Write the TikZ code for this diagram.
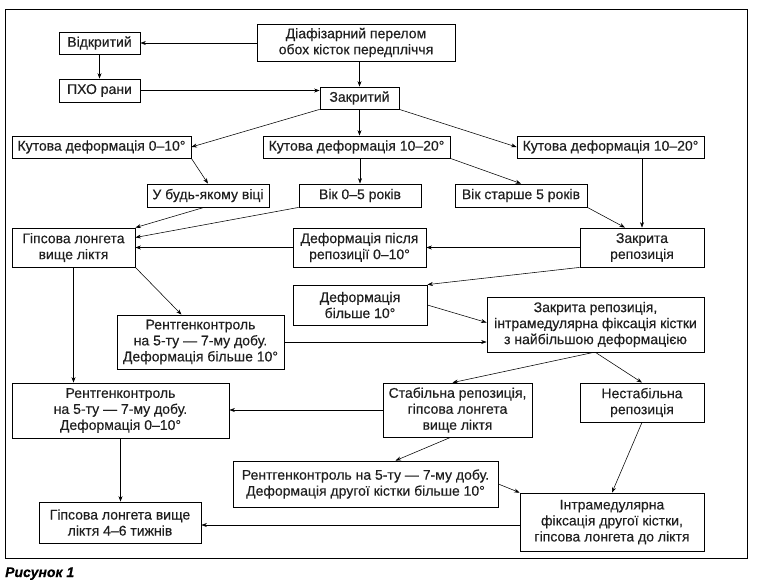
\documentclass[tikz,border=0pt]{standalone}
\usepackage{fontspec}
\setmainfont{Liberation Sans}[FakeBold=0.35]
\usetikzlibrary{arrows.meta,calc}
\newcommand{\fsz}{\fontsize{14}{16}\selectfont}
\tikzset{
  box/.style={draw, line width=0.8pt, align=center, inner sep=0pt, font=\fsz, text=black!88},
  arr/.style={-{Stealth[length=5.5pt,width=4pt]}, line width=0.55pt},
}
\begin{document}
\begin{tikzpicture}[x=1pt,y=-1pt]
\useasboundingbox (0,0) rectangle (760,587);
\draw[line width=0.9pt] (5,9) rectangle (747,558);
\node[anchor=base west, inner sep=0pt, font=\bfseries\itshape\fsz] (cap) at (5,577) {Рисунок 1};

\node[box, minimum width=198pt, minimum height=37pt] (diaf) at (356,42.5) {Діафізарний перелом\\обох кісток передпліччя};
\node[box, minimum width=81pt, minimum height=22pt] (vidk) at (99.5,43) {Відкритий};
\node[box, minimum width=81pt, minimum height=23pt] (pho) at (99.5,90.5) {ПХО рани};
\node[box, minimum width=79pt, minimum height=22pt] (zakr) at (359.5,98) {Закритий};
\node[box, minimum width=179pt, minimum height=22pt] (k010) at (101.5,147) {Кутова деформація 0–10°};
\node[box, minimum width=187pt, minimum height=22pt] (k1020a) at (356.5,147) {Кутова деформація 10–20°};
\node[box, minimum width=187pt, minimum height=22pt] (k1020b) at (610.5,147) {Кутова деформація 10–20°};
\node[box, minimum width=122pt, minimum height=23pt] (bud) at (208,195.5) {У будь-якому віці};
\node[box, minimum width=122pt, minimum height=23pt] (vik05) at (360,195.5) {Вік 0–5 років};
\node[box, minimum width=132pt, minimum height=23pt] (vikst) at (521,195.5) {Вік старше 5 років};
\node[box, minimum width=123pt, minimum height=39pt] (gips) at (73.5,247.5) {Гіпсова лонгета\\вище ліктя};
\node[box, minimum width=133pt, minimum height=39pt] (defpisl) at (359.5,247.5) {Деформація після\\репозиції 0–10°};
\node[box, minimum width=124pt, minimum height=39pt] (zakrrep) at (642,247.5) {Закрита\\репозиція};
\node[box, minimum width=134pt, minimum height=40pt] (defbil) at (360,305) {Деформація\\більше 10°};
\node[box, minimum width=217pt, minimum height=55pt] (zrim) at (595.5,324.5) {Закрита репозиція,\\інтрамедулярна фіксація кістки\\з найбільшою деформацією};
\node[box, minimum width=167pt, minimum height=54pt] (rent1) at (200.5,342) {Рентгенконтроль\\на 5-ту — 7-му добу.\\Деформація більше 10°};
\node[box, minimum width=217pt, minimum height=55pt] (rent2) at (120.5,410.5) {Рентгенконтроль\\на 5-ту — 7-му добу.\\Деформація 0–10°};
\node[box, minimum width=149pt, minimum height=54pt] (stab) at (457.5,410) {Стабільна репозиція,\\гіпсова лонгета\\вище ліктя};
\node[box, minimum width=124pt, minimum height=39pt] (nestab) at (642,402.5) {Нестабільна\\репозиція};
\node[box, minimum width=265pt, minimum height=46pt] (rent3) at (365.5,484) {Рентгенконтроль на 5-ту — 7-му добу.\\Деформація другої кістки більше 10°};
\node[box, minimum width=162pt, minimum height=41pt] (gips46) at (120,522.5) {Гіпсова лонгета вище\\ліктя 4–6 тижнів};
\node[box, minimum width=184pt, minimum height=58pt] (intr) at (612,522) {Інтрамедулярна\\фіксація другої кістки,\\гіпсова лонгета до ліктя};

\draw[arr] (diaf.west |- vidk.east) -- (vidk.east);
\draw[arr] (zakr.north |- diaf.south) -- (zakr.north);
\draw[arr] (vidk.south) -- (pho.north);
\draw[arr] (pho.east) -- (pho.east -| zakr.west);
\draw[arr] (zakr.south west) -- (k010.east);
\draw[arr] (zakr.south) -- (zakr.south |- k1020a.north);
\draw[arr] (zakr.south east) -- (k1020b.west);
\draw[arr] (k010.south east) -- (bud.north);
\draw[arr] (vik05.north |- k1020a.south) -- (vik05.north);
\draw[arr] (k1020a.south east) -- (vikst.north);
\draw[arr] (zakrrep.north |- k1020b.south) -- (zakrrep.north);
\draw[arr] (vikst.south east) -- ($(zakrrep.north)+(-17,0)$);
\draw[arr] ($(bud.south)+(-4,0)$) -- (gips.north east);
\draw[arr] (vik05.south west) -- ($(gips.east)+(0,-10)$);
\draw[arr] (defpisl.west) -- (gips.east);
\draw[arr] (zakrrep.west) -- (defpisl.east);
\draw[arr] (zakrrep.south west) -- (defbil.north east);
\draw[arr] (defbil.east) -- ($(zrim.west)+(0,-2)$);
\draw[arr] (rent1.east) -- (rent1.east -| zrim.west);
\draw[arr] (gips.south east) -- ($(rent1.north)+(-19,0)$);
\draw[arr] (gips.south) -- (gips.south |- rent2.north);
\draw[arr] ($(zrim.south)+(-2,0)$) -- ($(stab.north)+(-5,0)$);
\draw[arr] (zrim.south) -- (nestab.north);
\draw[arr] (stab.west) -- (stab.west -| rent2.east);
\draw[arr] ($(stab.south)+(-7,0)$) -- ($(rent3.north)+(30,0)$);
\draw[arr] (nestab.south) -- (intr.north);
\draw[arr] (rent3.east) -- (intr.north west);
\draw[arr] ($(intr.west)+(0,3)$) -- ($(intr.west -| gips46.east)+(0,3)$);
\draw[arr] (rent2.south) -- (rent2.south |- gips46.north);
\end{tikzpicture}
\end{document}
